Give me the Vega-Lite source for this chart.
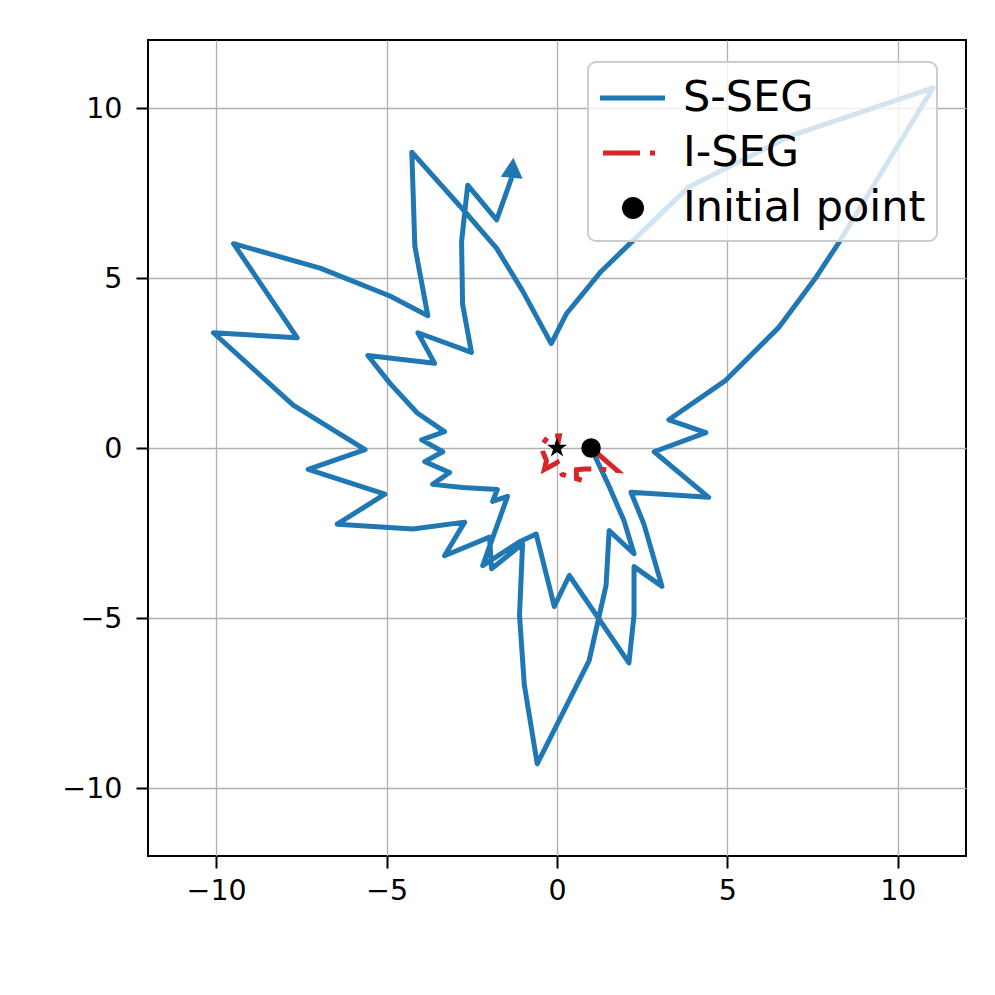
{
  "$schema": "https://vega.github.io/schema/vega-lite/v6.json",
  "width": 818,
  "height": 816,
  "autosize": {"type": "none"},
  "padding": {"left": 148, "top": 40, "right": 29, "bottom": 139},
  "background": "white",
  "datasets": {
    "sseg": [
      {"i": 0, "x": 1.0, "y": 0.0},
      {"i": 1, "x": 1.53, "y": -1.13},
      {"i": 2, "x": 1.97, "y": -2.15},
      {"i": 3, "x": 2.26, "y": -3.11},
      {"i": 4, "x": 1.53, "y": -2.43},
      {"i": 5, "x": 1.44, "y": -4.04},
      {"i": 6, "x": 0.94, "y": -6.26},
      {"i": 7, "x": -0.58, "y": -9.29},
      {"i": 8, "x": -0.96, "y": -6.96},
      {"i": 9, "x": -1.1, "y": -4.92},
      {"i": 10, "x": -1.01, "y": -2.82},
      {"i": 11, "x": -1.92, "y": -3.55},
      {"i": 12, "x": -1.98, "y": -2.62},
      {"i": 13, "x": -3.3, "y": -3.17},
      {"i": 14, "x": -2.71, "y": -2.18},
      {"i": 15, "x": -4.23, "y": -2.38},
      {"i": 16, "x": -6.45, "y": -2.24},
      {"i": 17, "x": -5.05, "y": -1.36},
      {"i": 18, "x": -7.3, "y": -0.63},
      {"i": 19, "x": -5.63, "y": -0.05},
      {"i": 20, "x": -7.74, "y": 1.26},
      {"i": 21, "x": -10.08, "y": 3.39},
      {"i": 22, "x": -7.62, "y": 3.24},
      {"i": 23, "x": -9.49, "y": 6.01},
      {"i": 24, "x": -6.95, "y": 5.29},
      {"i": 25, "x": -4.9, "y": 4.47},
      {"i": 26, "x": -3.79, "y": 3.89},
      {"i": 27, "x": -4.17, "y": 5.93},
      {"i": 28, "x": -4.26, "y": 8.7},
      {"i": 29, "x": -2.77, "y": 7.03},
      {"i": 30, "x": -1.77, "y": 5.87},
      {"i": 31, "x": -1.01, "y": 4.62},
      {"i": 32, "x": -0.17, "y": 3.07},
      {"i": 33, "x": 0.27, "y": 3.94},
      {"i": 34, "x": 1.3, "y": 5.2},
      {"i": 35, "x": 2.2, "y": 6.07},
      {"i": 36, "x": 3.87, "y": 7.68},
      {"i": 37, "x": 6.88, "y": 9.19},
      {"i": 38, "x": 11.03, "y": 10.59},
      {"i": 39, "x": 8.25, "y": 6.01},
      {"i": 40, "x": 7.58, "y": 4.99},
      {"i": 41, "x": 6.5, "y": 3.54},
      {"i": 42, "x": 4.95, "y": 1.99},
      {"i": 43, "x": 3.28, "y": 0.83},
      {"i": 44, "x": 4.37, "y": 0.45},
      {"i": 45, "x": 2.85, "y": -0.11},
      {"i": 46, "x": 4.45, "y": -1.45},
      {"i": 47, "x": 2.17, "y": -1.3},
      {"i": 48, "x": 2.55, "y": -2.24},
      {"i": 49, "x": 3.08, "y": -4.07},
      {"i": 50, "x": 2.26, "y": -3.49},
      {"i": 51, "x": 2.26, "y": -4.92},
      {"i": 52, "x": 2.11, "y": -6.32},
      {"i": 53, "x": 0.36, "y": -3.75},
      {"i": 54, "x": -0.08, "y": -4.66},
      {"i": 55, "x": -0.61, "y": -2.53},
      {"i": 56, "x": -1.1, "y": -2.76},
      {"i": 57, "x": -2.18, "y": -3.46},
      {"i": 58, "x": -1.45, "y": -1.42},
      {"i": 59, "x": -1.89, "y": -1.57},
      {"i": 60, "x": -1.75, "y": -1.22},
      {"i": 61, "x": -2.77, "y": -1.16},
      {"i": 62, "x": -3.65, "y": -1.07},
      {"i": 63, "x": -3.15, "y": -0.72},
      {"i": 64, "x": -3.88, "y": -0.4},
      {"i": 65, "x": -3.35, "y": -0.11},
      {"i": 66, "x": -3.97, "y": 0.24},
      {"i": 67, "x": -3.3, "y": 0.48},
      {"i": 68, "x": -4.1, "y": 1.03},
      {"i": 69, "x": -4.9, "y": 1.9},
      {"i": 70, "x": -5.55, "y": 2.72},
      {"i": 71, "x": -3.59, "y": 2.49},
      {"i": 72, "x": -4.08, "y": 3.39},
      {"i": 73, "x": -2.51, "y": 2.81},
      {"i": 74, "x": -2.77, "y": 4.23},
      {"i": 75, "x": -2.8, "y": 6.07},
      {"i": 76, "x": -2.62, "y": 7.73},
      {"i": 77, "x": -1.77, "y": 6.71},
      {"i": 78, "x": -1.33, "y": 7.95}
    ],
    "iseg": [
      {"i": 0, "x": 1.0, "y": 0.0},
      {"i": 1, "x": 1.76, "y": -0.66},
      {"i": 2, "x": 1.24, "y": -0.62},
      {"i": 3, "x": 0.8, "y": -0.62},
      {"i": 4, "x": 0.57, "y": -0.64},
      {"i": 5, "x": 0.57, "y": -0.88},
      {"i": 6, "x": 0.72, "y": -0.95},
      {"i": 7, "x": 0.15, "y": -0.78},
      {"i": 8, "x": 0.01, "y": -0.43},
      {"i": 9, "x": -0.37, "y": -0.63},
      {"i": 10, "x": -0.31, "y": -0.37},
      {"i": 11, "x": -0.42, "y": -0.1},
      {"i": 12, "x": -0.46, "y": 0.07},
      {"i": 13, "x": -0.25, "y": 0.35},
      {"i": 14, "x": 0.07, "y": 0.36},
      {"i": 15, "x": 0.0, "y": 0.0}
    ],
    "initial": [
      {"x": 1.0, "y": 0.0, "series": "Initial point"}
    ],
    "final": [
      {"x": 0.0, "y": 0.0}
    ],
    "head": [
      {"x": -1.33, "y": 7.95, "angle": 5}
    ]
  },
  "encoding": {
    "x": {
      "field": "x",
      "type": "quantitative",
      "title": null,
      "scale": {"domain": [-12, 12], "nice": false, "zero": false},
      "axis": {"values": [-10, -5, 0, 5, 10]}
    },
    "y": {
      "field": "y",
      "type": "quantitative",
      "title": null,
      "scale": {"domain": [-12, 12], "nice": false, "zero": false},
      "axis": {"values": [-10, -5, 0, 5, 10]}
    }
  },
  "layer": [
    {
      "data": {"name": "sseg"},
      "mark": {"type": "line", "color": "#1f77b4", "strokeWidth": 5, "strokeJoin": "round"},
      "encoding": {
        "order": {"field": "i", "type": "quantitative"}
      }
    },
    {
      "data": {"name": "iseg"},
      "mark": {"type": "line", "color": "#d62728", "strokeWidth": 5, "strokeDash": [36, 9, 6, 9]},
      "encoding": {
        "order": {"field": "i", "type": "quantitative"}
      }
    },
    {
      "data": {"name": "initial"},
      "mark": {"type": "point", "filled": true, "size": 380, "opacity": 1, "strokeWidth": 0},
      "encoding": {
        "color": {
          "field": "series",
          "type": "nominal",
          "scale": {"domain": ["S-SEG", "I-SEG", "Initial point"], "range": ["#1f77b4", "#d62728", "#000000"]},
          "legend": {
            "title": null,
            "orient": "none",
            "legendX": 440,
            "legendY": 22,
            "padding": 11,
            "symbolSize": 2500,
            "symbolStrokeWidth": 0,
            "symbolOpacity": 1,
            "labelFont": "DejaVu Sans",
            "labelFontSize": 43,
            "labelColor": "black",
            "labelOffset": 34,
            "labelLimit": 500,
            "rowPadding": 8,
            "fillColor": "rgba(255,255,255,0.8)",
            "strokeColor": "#cccccc",
            "cornerRadius": 8,
            "encode": {
              "legend": {"update": {"strokeWidth": {"value": 2}}},
              "symbols": {
                "update": {
                  "shape": {"signal": "datum.value === 'S-SEG' ? 'M-0.96,-0.1H1.64V0.1H-0.96Z' : datum.value === 'I-SEG' ? 'M-0.84,-0.1H0.64V0.1H-0.84Z M1.04,-0.1H1.24V0.1H1.04Z' : 'M0.8,0A0.44,0.44 0 1,1 -0.08,0A0.44,0.44 0 1,1 0.8,0Z'"}
                }
              }
            }
          }
        }
      }
    },
    {
      "data": {"name": "final"},
      "mark": {
        "type": "point",
        "filled": true,
        "opacity": 1,
        "size": 450,
        "color": "black",
        "shape": "M0,-1L0.225,-0.309L0.951,-0.309L0.363,0.118L0.588,0.809L0,0.382L-0.588,0.809L-0.363,0.118L-0.951,-0.309L-0.225,-0.309Z"
      }
    },
    {
      "data": {"name": "head"},
      "mark": {
        "type": "point",
        "filled": true,
        "opacity": 1,
        "size": 400,
        "color": "#1f77b4",
        "shape": "M0,-2L1.1,0L-1.1,0Z"
      },
      "encoding": {
        "angle": {"field": "angle", "type": "quantitative", "scale": null}
      }
    }
  ],
  "config": {
    "view": {"stroke": "black", "strokeWidth": 2},
    "axis": {
      "grid": true,
      "gridColor": "#b0b0b0",
      "gridWidth": 1.3,
      "domain": false,
      "tickColor": "black",
      "tickWidth": 2,
      "tickSize": 12,
      "labelFont": "DejaVu Sans",
      "labelFontSize": 28.5,
      "labelColor": "black"
    },
    "axisX": {"labelPadding": 8},
    "axisY": {"labelPadding": 14}
  }
}
